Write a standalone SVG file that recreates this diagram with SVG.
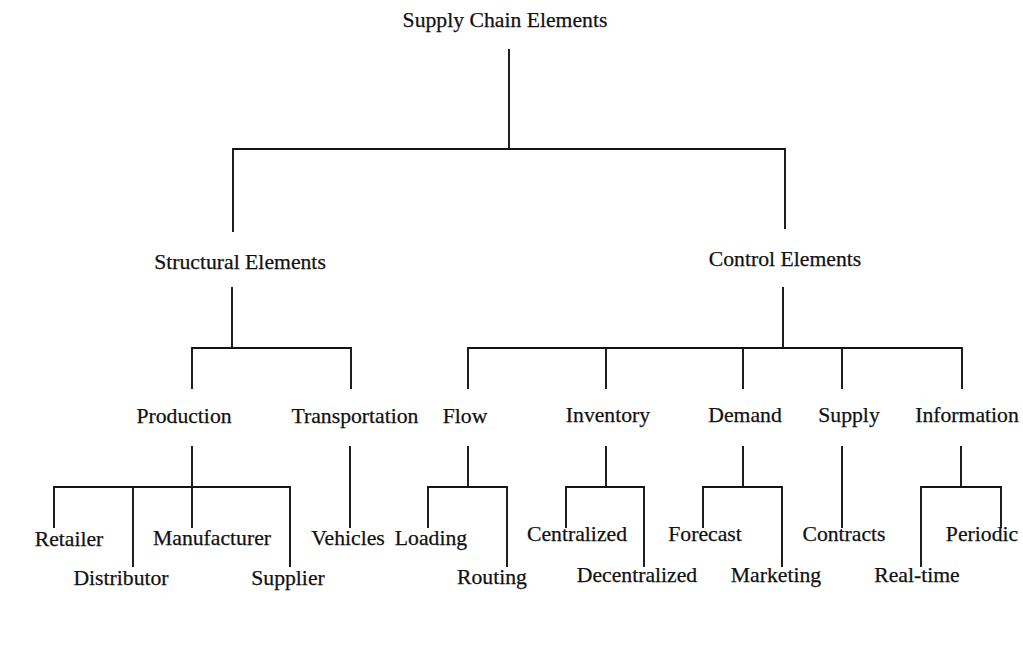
<svg xmlns="http://www.w3.org/2000/svg" width="1023" height="650" viewBox="0 0 1023 650">
  <style>
    .lbl { font-family: "Liberation Serif", "Times New Roman", serif; font-size: 21.7px; fill: #111111; stroke: #111111; stroke-width: 0.25; text-anchor: middle; }
    .ln { stroke: #151515; stroke-width: 1.9; fill: none; stroke-linecap: square; }
  </style>
  <rect width="1023" height="650" fill="#ffffff"/>

  <!-- tree connectors -->
  <g id="connectors">
    <!-- root to level 1 -->
    <path class="ln" d="M509 50 V149 M233 149 H785 M233 149 V231 M785 149 V228"/>
    <!-- Structural Elements -->
    <path class="ln" d="M232 288 V348 M192 348 H351 M192 348 V388 M351 348 V388"/>
    <!-- Control Elements -->
    <path class="ln" d="M783 288 V348 M468 348 H962 M468 348 V388 M606 348 V388 M743 348 V388 M842 348 V388 M962 348 V388"/>
    <!-- Production -->
    <path class="ln" d="M192 447 V527 M54 487 H290 M54 487 V527 M133 487 V566 M290 487 V566"/>
    <!-- Transportation -->
    <path class="ln" d="M350 447 V527"/>
    <!-- Flow -->
    <path class="ln" d="M468 447 V487 M428 487 H507 M428 487 V527 M507 487 V566"/>
    <!-- Inventory -->
    <path class="ln" d="M606 447 V487 M566 487 H644 M566 487 V527 M644 487 V566"/>
    <!-- Demand -->
    <path class="ln" d="M743 447 V487 M703 487 H782 M703 487 V527 M782 487 V566"/>
    <!-- Supply -->
    <path class="ln" d="M842 447 V527"/>
    <!-- Information -->
    <path class="ln" d="M961 447 V487 M921 487 H1001 M921 487 V566 M1001 487 V527"/>
  </g>

  <g id="root"><text class="lbl" x="505" y="27">Supply Chain Elements</text></g>

  <g id="structural"><text class="lbl" x="240" y="269">Structural Elements</text></g>
  <g id="control"><text class="lbl" x="785" y="266">Control Elements</text></g>

  <g id="production"><text class="lbl" x="184" y="423">Production</text></g>
  <g id="transportation"><text class="lbl" x="355" y="423">Transportation</text></g>
  <g id="flow"><text class="lbl" x="465" y="423">Flow</text></g>
  <g id="inventory"><text class="lbl" x="608" y="422">Inventory</text></g>
  <g id="demand"><text class="lbl" x="745" y="422">Demand</text></g>
  <g id="supply"><text class="lbl" x="849" y="422">Supply</text></g>
  <g id="information"><text class="lbl" x="967" y="422">Information</text></g>

  <g id="retailer"><text class="lbl" x="69" y="546">Retailer</text></g>
  <g id="distributor"><text class="lbl" x="121" y="585">Distributor</text></g>
  <g id="manufacturer"><text class="lbl" x="212" y="545">Manufacturer</text></g>
  <g id="supplier"><text class="lbl" x="288" y="585">Supplier</text></g>
  <g id="vehicles"><text class="lbl" x="348" y="545">Vehicles</text></g>
  <g id="loading"><text class="lbl" x="431" y="545">Loading</text></g>
  <g id="routing"><text class="lbl" x="492" y="584">Routing</text></g>
  <g id="centralized"><text class="lbl" x="577" y="541">Centralized</text></g>
  <g id="decentralized"><text class="lbl" x="637" y="582">Decentralized</text></g>
  <g id="forecast"><text class="lbl" x="705" y="541">Forecast</text></g>
  <g id="marketing"><text class="lbl" x="776" y="582">Marketing</text></g>
  <g id="contracts"><text class="lbl" x="844" y="541">Contracts</text></g>
  <g id="periodic"><text class="lbl" x="982" y="541">Periodic</text></g>
  <g id="realtime"><text class="lbl" x="917" y="582">Real-time</text></g>
</svg>
